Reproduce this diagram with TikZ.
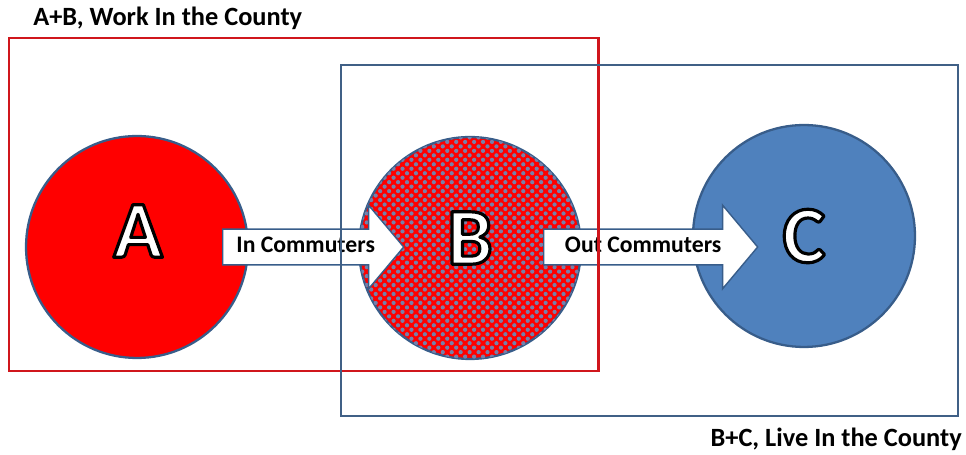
\documentclass[tikz,border=0pt]{standalone}
\usepackage{fontspec}
\setmainfont{Carlito}
\usetikzlibrary{shapes.arrows,patterns.meta}
\definecolor{boxred}{RGB}{208,22,28}
\definecolor{boxblue}{RGB}{64,96,134}
\definecolor{rimblue}{RGB}{56,93,138}
\definecolor{cfill}{RGB}{79,129,189}
\definecolor{dotgray}{RGB}{118,128,170}
% white letter with a black rim
\newcommand\rimletter[1]{\special{pdf:literal direct 0 0 0 RG 1.8 w 1 j 2 Tr}#1\special{pdf:literal direct 0 Tr}}
\begin{document}
\begin{tikzpicture}[x=0.02cm,y=-0.02cm,
  bubble/.style={circle,draw=rimblue,line width=1.3pt,minimum size=4.44cm,inner sep=0pt},
  letter/.style={font=\fontsize{46}{46}\selectfont\bfseries,text=white},
  commuter/.style={single arrow,draw=rimblue,fill=white,line width=0.8pt,anchor=tail,
    single arrow head extend=0.48cm,single arrow tip angle=100,
    font=\fontsize{13.5}{13.5}\selectfont\bfseries,text height=9pt,text depth=2.5pt,
    inner ysep=4pt,inner xsep=6pt},
  title/.style={font=\fontsize{15}{15}\selectfont\bfseries,inner sep=0pt}]
\useasboundingbox (0,0) rectangle (966,455);
% titles
\node[title,anchor=base west] (work) at (33,26) {A+B, Work In the County};
\node[title,anchor=base east] (live) at (962,446) {B+C, Live In the County};
% circles
\node[bubble,fill=red] (A) at (137,247) {};
\node[bubble,fill=red,postaction={pattern color=dotgray,pattern={Dots[radius=1.2pt,distance=3.6pt,angle=45]}}] (B) at (470,248) {};
\node[bubble,fill=cfill] (C) at (804,236) {};
\node[letter] (labA) at (138,231) {\rimletter{A}};
\node[letter] (labB) at (470,238) {\rimletter{B}};
\node[letter] (labC) at (804,236) {\rimletter{C}};
% commuter arrows
\node[commuter,minimum height=3.62cm] (in) at (222,247) {In Commuters};
\node[commuter,minimum height=4.28cm] (out) at (543,247) {Out Commuters};
% county boxes
\draw[boxred,line width=1.7pt] (9,38) rectangle (598,371);
\draw[boxblue,line width=1.5pt] (341,65) rectangle (958,416);
\end{tikzpicture}
\end{document}
